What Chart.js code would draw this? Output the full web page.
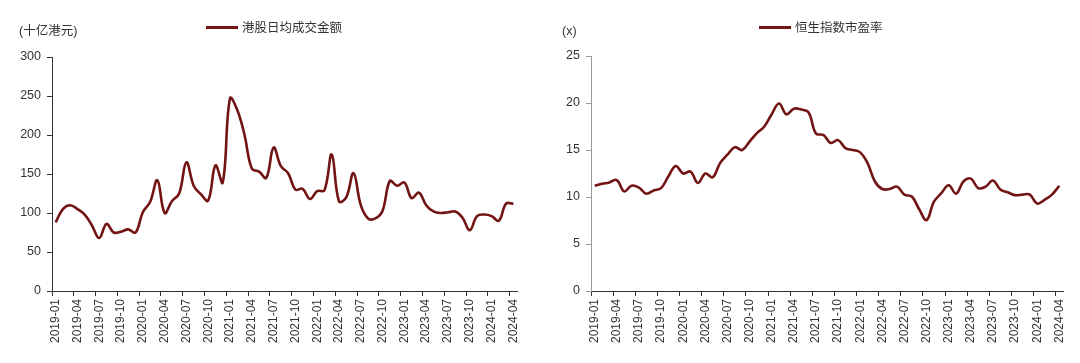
<!DOCTYPE html>
<html>
<head>
<meta charset="utf-8">
<script src="https://cdn.jsdelivr.net/npm/chart.js@4"></script>
<style>
  body { margin: 0; background: #fff; font-family: 'Liberation Sans', 'Noto Sans CJK SC', sans-serif; }
  #wrap { position: relative; width: 1080px; height: 363px; }
  canvas { position: absolute; top: 0; }
  .unit, .legend { position: absolute; font-size: 12.5px; color: #333; line-height: 14px; }
  .legend span.swatch { display: inline-block; width: 32px; height: 3px; background: #721414; vertical-align: middle; margin-right: 4px; position: relative; top: -1px; }
</style>
</head>
<body>
<div id="wrap">
  <canvas id="turnoverChart" width="540" height="363" style="left:0"></canvas>
  <canvas id="peChart" width="540" height="363" style="left:540px"></canvas>
  <div class="unit" style="left:19px; top:24px">(十亿港元)</div>
  <div class="unit" style="left:562px; top:24px">(x)</div>
  <div class="legend" style="left:206px; top:21px"><span class="swatch"></span>港股日均成交金额</div>
  <div class="legend" style="left:759px; top:21px"><span class="swatch"></span>恒生指数市盈率</div>
</div>
<script>
// Monthly categories 2019-01 .. 2024-04
const months = [];
for (let y = 2019; y <= 2024; y++) {
    for (let m = 1; m <= 12; m++) {
        if (y === 2024 && m > 4) break;
        months.push(`${y}-${String(m).padStart(2, '0')}`);
    }
}

// 港股日均成交金额 (十亿港元)
const turnover = [
    88, 105, 110, 105, 98, 84, 68, 86, 75, 76, 79, 75,
    101, 114, 142, 100, 115, 125, 165, 135, 124, 116, 161, 139,
    247, 232, 200, 157, 153, 145, 184, 160, 151, 130, 131, 118,
    128, 129, 175, 115, 120, 151, 110, 93, 93, 103, 141, 135,
    139, 119, 126, 110, 102, 100, 101, 102, 94, 78, 96, 98,
    96, 90, 112, 112
];

// 恒生指数市盈率 (x)
const pe = [
    11.2, 11.4, 11.55, 11.8, 10.6, 11.2, 11.0, 10.35, 10.7, 10.95, 12.2, 13.3,
    12.5, 12.7, 11.5, 12.5, 12.1, 13.6, 14.5, 15.3, 15.0, 15.9, 16.8, 17.5,
    18.8, 19.95, 18.8, 19.4, 19.3, 19.0, 16.75, 16.6, 15.75, 16.05, 15.2, 15.0,
    14.75, 13.6, 11.65, 10.85, 10.85, 11.1, 10.25, 10.05, 8.7, 7.55, 9.5, 10.4,
    11.25, 10.35, 11.65, 11.95, 10.95, 11.1, 11.75, 10.8, 10.5, 10.2, 10.25, 10.25,
    9.3, 9.7, 10.25, 11.2
];

const turnoverTicks = { min: 0, max: 300, step: 50 };
const peTicks = { min: 0, max: 25, step: 5 };

const lineColor = '#721414';
const textColor = '#333';
const fontFamily = "'Liberation Sans', 'Noto Sans CJK SC', sans-serif";

function makeChart(id, label, values, yTicks, opts) {
    const ctx = document.getElementById(id).getContext('2d');
    return new Chart(ctx, {
        type: 'line',
        data: {
            labels: months,
            datasets: [{
                label: label,
                data: values,
                borderColor: lineColor,
                backgroundColor: lineColor,
                borderWidth: 2.6,
                pointRadius: 0,
                tension: 0.4
            }]
        },
        options: {
            responsive: false,
            animation: false,
            devicePixelRatio: 1,
            layout: { padding: { top: opts.top, right: opts.right, bottom: 0, left: 0 } },
            plugins: { legend: { display: false }, tooltip: { enabled: false } },
            scales: {
                x: {
                    offset: true,
                    grid: {
                        offset: true,
                        drawOnChartArea: false,
                        tickLength: 5,
                        color: c => (c.index % 3 === 0 ? '#333' : 'rgba(0,0,0,0)')
                    },
                    border: { color: '#333', width: 1 },
                    ticks: {
                        autoSkip: false,
                        minRotation: 90,
                        maxRotation: 90,
                        padding: 3,
                        color: textColor,
                        font: { family: fontFamily, size: 12 },
                        callback: (v, i) => (i % 3 === 0 ? months[i] : '')
                    },
                    afterFit: s => { s.height = 72; }
                },
                y: {
                    min: yTicks.min,
                    max: yTicks.max,
                    grid: { drawOnChartArea: false, tickLength: 5, color: opts.yAxisColor },
                    border: { color: opts.yAxisColor, width: 1 },
                    ticks: {
                        stepSize: yTicks.step,
                        padding: 6,
                        color: textColor,
                        font: { family: fontFamily, size: 12.5 }
                    },
                    afterFit: s => { s.width = opts.yWidth; }
                }
            }
        }
    });
}

makeChart('turnoverChart', '港股日均成交金额', turnover, turnoverTicks,
    { top: 57, right: 23, yWidth: 52, yAxisColor: '#333' });
makeChart('peChart', '恒生指数市盈率', pe, peTicks,
    { top: 56, right: 17, yWidth: 51, yAxisColor: '#999' });
</script>
</body>
</html>
